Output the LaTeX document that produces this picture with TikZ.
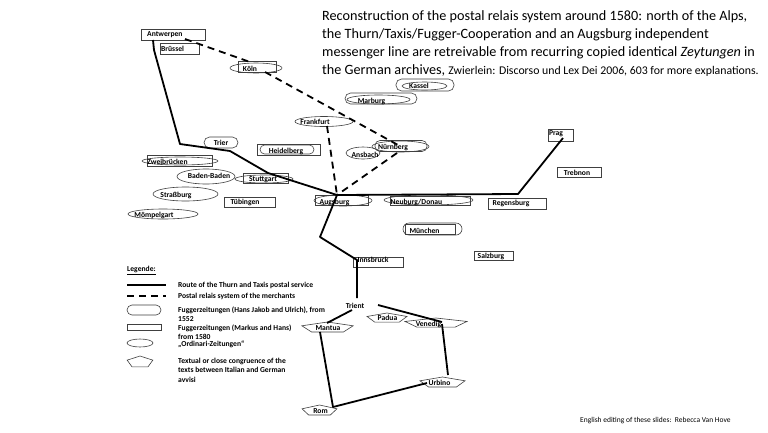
\documentclass[tikz,border=0pt]{standalone}
\usepackage{fontspec}
\setmainfont{Carlito}
\usetikzlibrary{shapes.geometric}
\newcommand\citf{\bfseries\fontsize{7.6}{8}\selectfont}
\newcommand\legf{\bfseries\fontsize{7.6}{8.6}\selectfont}
\newcommand\pentat[4]{\draw[outl, shift={(#1,#2)}] (0,-#4) -- ({0.95*#3},{-0.31*#4}) -- ({0.59*#3},{0.81*#4}) -- ({-0.59*#3},{0.81*#4}) -- ({-0.95*#3},{-0.31*#4}) -- cycle;}
\tikzset{
  outl/.style={draw=black!75, line width=0.6pt},
  cbox/.style={outl, rectangle, inner sep=0pt},
  rbox/.style={outl, rectangle, rounded corners=4pt, inner sep=0pt},
  city/.style={font=\citf, inner sep=0pt},
  legt/.style={font=\legf, inner sep=0pt, anchor=base west},
  route/.style={line width=1.8pt, line join=round},
  merch/.style={line width=1.8pt, dash pattern=on 7pt off 5pt},
  ttl/.style={anchor=base west, inner sep=0pt, font=\fontsize{14.2}{17}\selectfont}
}
\begin{document}
\begin{tikzpicture}[x=1pt,y=-1pt]
\useasboundingbox[fill=white] (0,0) rectangle (768,432);

% ---------- title ----------
\node[ttl] (t1) at (322,20) {Reconstruction of the postal relais system around 1580: north of the Alps,};
\node[ttl] (t2) at (322,38) {the Thurn/Taxis/Fugger-Cooperation and an Augsburg independent};
\node[ttl] (t3) at (322,56) {messenger line are retreivable from recurring copied identical \textit{Zeytungen} in};
\node[ttl] (t4) at (322,74) {the German archives, {\fontsize{11.8}{12}\selectfont Zwierlein: Discorso und Lex Dei 2006, 603 for more explanations.}};
\node[anchor=base west, inner sep=0pt, font=\fontsize{7.5}{9}\selectfont] (foot) at (580,422) {English editing of these slides:\ \ Rebecca Van Hove};

% ---------- shapes ----------
\node[cbox, minimum width=64pt, minimum height=11pt] (antB) at (173,34.5) {};
\node[cbox, minimum width=39pt, minimum height=11pt] (bruB) at (179.5,48.5) {};
\node[cbox, minimum width=38pt, minimum height=11pt] (kolB) at (257,66.5) {};
\draw[outl] (256,68) ellipse [x radius=26pt, y radius=5pt];
\node[rbox, rounded corners=5.5pt, minimum width=58pt, minimum height=12pt] (kasB) at (425,85) {};
\draw[outl] (424.5,86) ellipse [x radius=22.5pt, y radius=4pt];
\node[rbox, rounded corners=5.5pt, minimum width=72pt, minimum height=11pt] (marB) at (381,98.5) {};
\draw[outl] (378.5,99.5) ellipse [x radius=31.5pt, y radius=4.5pt];
\draw[outl] (324,121.5) ellipse [x radius=29pt, y radius=5pt];
\node[cbox, minimum width=63pt, minimum height=11pt] (heiB) at (288.5,149.5) {};
\node[rbox, rounded corners=4.5pt, minimum width=54pt, minimum height=9pt] (heiR) at (287,149.5) {};
\draw[outl] (400.5,146.5) ellipse [x radius=28.5pt, y radius=5.5pt];
\node[rbox, rounded corners=5pt, minimum width=52pt, minimum height=11pt] (nurR) at (401,146) {};
\draw[outl] (363,153) ellipse [x radius=17pt, y radius=6pt];
\node[rbox, rounded corners=5.5pt, minimum width=34pt, minimum height=11pt] (triB) at (221,142.5) {};
\node[cbox, minimum width=65pt, minimum height=11pt] (zweB) at (179.5,160.5) {};
\draw[outl] (180,161) ellipse [x radius=38pt, y radius=4pt];
\draw[outl] (206,176.5) ellipse [x radius=29pt, y radius=7.5pt];
\node[cbox, minimum width=45pt, minimum height=10pt] (stuB) at (265.5,178) {};
\draw[outl] (264,179) ellipse [x radius=29pt, y radius=4pt];
\draw[outl] (185.5,194) ellipse [x radius=32.5pt, y radius=7pt];
\node[cbox, minimum width=51pt, minimum height=10pt] (tubB) at (249.5,202) {};
\draw[outl] (163,214) ellipse [x radius=35pt, y radius=5pt];
\node[cbox, minimum width=53pt, minimum height=10pt] (augB) at (341.5,200) {};
\draw[outl] (343,200.5) ellipse [x radius=29pt, y radius=5.5pt];
\draw[outl] (428.5,200) ellipse [x radius=44.5pt, y radius=5pt];
\node[cbox, minimum width=80pt, minimum height=9pt] (neuB) at (430,200.5) {};
\node[rbox, rounded corners=6pt, minimum width=59pt, minimum height=12pt] (munB) at (432.5,229) {};
\node[cbox, minimum width=50pt, minimum height=10pt] (munR) at (430,229) {};
\node[cbox, minimum width=39pt, minimum height=9pt] (salB) at (493.5,256) {};
\node[cbox, minimum width=50pt, minimum height=10pt] (innB) at (378,262) {};
\node[cbox, minimum width=58pt, minimum height=11pt] (regB) at (517,203.5) {};
\node[cbox, minimum width=25pt, minimum height=12pt] (praB) at (560.5,135) {};
\node[cbox, minimum width=44pt, minimum height=10pt] (treB) at (579,172) {};
\pentat{327.5}{327.5}{27}{5.5}
\pentat{387}{318}{21}{5}
\pentat{436}{323}{32.6}{5}
\pentat{442.5}{382.5}{23.7}{5.5}
\pentat{319.5}{410.5}{18.4}{5.5}

% ---------- connectors ----------
\coordinate (pA) at (153,40);
\coordinate (pB) at (154,50);
\coordinate (pC) at (180,144);
\coordinate (pD) at (230,151);
\coordinate (pE) at (268,173);
\coordinate (jAug) at (337,195);
\coordinate (pF) at (518,194);
\coordinate (pPrag) at (563,138);
\coordinate (pG) at (320,237);
\coordinate (pH) at (357,260);
\coordinate (pI) at (357,298);
\draw[route] (pA) -- (pB) -- (pC) -- (pD) -- (pE) -- (jAug) -- (pF) -- (pPrag);
\draw[route] (jAug) -- (pG) -- (pH) -- (pI);

\coordinate (trM) at (352,310);
\coordinate (maT) at (327,323);
\coordinate (trV) at (378,305);
\coordinate (veT) at (442,322);
\coordinate (veB) at (442,324);
\coordinate (urT) at (448,375);
\coordinate (urL) at (427,383);
\coordinate (roR) at (333,407);
\coordinate (maB) at (320,332);
\draw[route] (trM) -- (maT);
\draw[route] (trV) -- (veT);
\draw[route] (veB) -- (urT);
\draw[route] (urL) -- (roR) -- (maB);

\coordinate (dA1) at (185,39);
\coordinate (dK1) at (250,62);
\coordinate (dK2) at (265,72);
\coordinate (dN1) at (398,145);
\coordinate (dF1) at (327,126);
\coordinate (dN2) at (397,153);
\draw[merch] (dA1) -- (dK1);
\draw[merch] (dK2) -- (dN1);
\draw[merch] (dF1) -- (jAug);
\draw[merch] (dN2) -- (jAug);

% ---------- labels ----------
\node[city, anchor=west] (ant) at (147,35) {Antwerpen};
\node[city, anchor=west] (bru) at (161,48.5) {Brüssel};
\node[city] (kol) at (250,68.5) {Köln};
\node[city] (kas) at (419,86) {Kassel};
\node[city] (mar) at (371.5,101) {Marburg};
\node[city] (fra) at (315,122) {Frankfurt};
\node[city] (hei) at (286,151) {Heidelberg};
\node[city] (nur) at (393,147.5) {Nürnberg};
\node[city] (ans) at (365,155) {Ansbach};
\node[city] (tri) at (221,143) {Trier};
\node[city] (zwe) at (167.5,162) {Zweibrücken};
\node[city] (bad) at (209,176) {Baden-Baden};
\node[city] (stu) at (263,180) {Stuttgart};
\node[city] (str) at (176,195) {Straßburg};
\node[city] (tub) at (245,202) {Tübingen};
\node[city] (mom) at (154,215.5) {Mömpelgart};
\node[city] (aug) at (334.5,202) {Augsburg};
\node[city] (neu) at (416.5,202) {Neuburg/Donau};
\node[city] (mun) at (424.5,230.5) {München};
\node[city] (sal) at (491,256) {Salzburg};
\node[city] (inn) at (373,260) {Innsbruck};
\node[city] (reg) at (511,203.5) {Regensburg};
\node[city] (pra) at (556,134) {Prag};
\node[city] (tre) at (577,173) {Trebnon};
\node[city] (tri2) at (355,306) {Trient};
\node[city] (man) at (328,328) {Mantua};
\node[city] (pad) at (387.5,317.5) {Padua};
\node[city] (ven) at (428.5,324) {Venedig};
\node[city] (urb) at (439.5,382.5) {Urbino};
\node[city] (rom) at (320.5,411) {Rom};

% ---------- legend ----------
\node[legt] (leg) at (127,271.5) {\underline{Legende:}};
\coordinate (l1a) at (127,285);
\coordinate (l1b) at (166,285);
\coordinate (l2a) at (127,296);
\coordinate (l2b) at (166,296);
\draw[route] (l1a) -- (l1b);
\draw[merch] (l2a) -- (l2b);
\node[rbox, rounded corners=5pt, minimum width=34pt, minimum height=10pt] (lg3) at (144,310) {};
\node[cbox, minimum width=34pt, minimum height=6pt] (lg4) at (144,327) {};
\draw[outl] (140,343) ellipse [x radius=13pt, y radius=4pt];
\pentat{140}{362}{13.5}{6}
\node[legt] (lt1) at (178,287.5) {Route of the Thurn and Taxis postal service};
\node[legt] (lt2) at (178,298) {Postal relais system of the merchants};
\node[legt] (lt3) at (178,312.5) {Fuggerzeitungen (Hans Jakob and Ulrich), from};
\node[legt] (lt3b) at (178,321) {1552};
\node[legt] (lt4) at (178,330) {Fuggerzeitungen (Markus and Hans)};
\node[legt] (lt4b) at (178,339) {from 1580};
\node[legt] (lt4c) at (178,346.5) {„Ordinari-Zeitungen“};
\node[legt] (lt5) at (178,363) {Textual or close congruence of the};
\node[legt] (lt5b) at (178,372.5) {texts between Italian and German};
\node[legt] (lt5c) at (178,382.5) {avvisi};
\end{tikzpicture}
\end{document}
